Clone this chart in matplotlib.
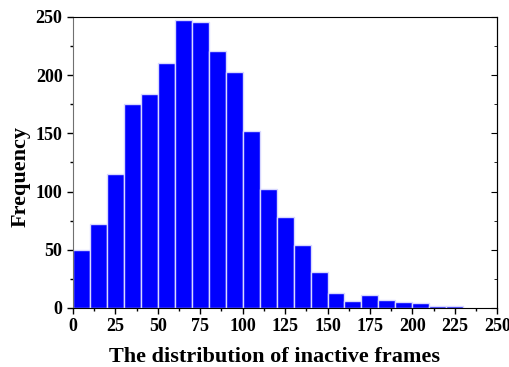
import matplotlib
matplotlib.use("Agg")
import matplotlib.pyplot as plt
from matplotlib.ticker import MultipleLocator

# histogram of inactive frames, bins of width 10
bin_edges = [0, 10, 20, 30, 40, 50, 60, 70, 80, 90, 100, 110,
             120, 130, 140, 150, 160, 170, 180, 190, 200, 210, 220, 230]
counts = [50, 72, 115, 175, 184, 210, 247, 246, 221, 203, 152, 102,
          78, 54, 31, 13, 6, 11, 7, 5, 4, 2, 2]

plt.rcParams['font.family'] = ['Liberation Serif', 'DejaVu Serif']
plt.rcParams['font.weight'] = 'bold'

fig = plt.figure(figsize=(5.1, 3.67), dpi=100)
ax = fig.add_axes([0.143, 0.161, 0.832, 0.793])

ax.hist(bin_edges[:-1], bins=bin_edges, weights=counts,
        color='#0000ff', edgecolor='#d8d8ff', linewidth=1.0)

ax.set_xlim(0, 250)
ax.set_ylim(0, 250)
ax.xaxis.set_major_locator(MultipleLocator(25))
ax.xaxis.set_minor_locator(MultipleLocator(12.5))
ax.yaxis.set_major_locator(MultipleLocator(50))
ax.yaxis.set_minor_locator(MultipleLocator(25))

ax.tick_params(which='both', direction='out', top=False, right=False,
               labelsize=13, width=1.0)
ax.tick_params(which='major', length=4)
ax.tick_params(which='minor', length=2.5)
ax.spines['left'].set_color('#707070')

# inward ticks on the right side only
sec_y = ax.secondary_yaxis('right')
sec_y.yaxis.set_major_locator(MultipleLocator(50))
sec_y.yaxis.set_minor_locator(MultipleLocator(25))
sec_y.tick_params(which='both', direction='in', labelright=False)
sec_y.tick_params(which='major', length=4)
sec_y.tick_params(which='minor', length=2)

for lab in ax.get_xticklabels() + ax.get_yticklabels():
    lab.set_fontweight('bold')

ax.set_xlabel('The distribution of inactive frames', fontsize=16,
              fontweight='bold')
ax.set_ylabel('Frequency', fontsize=16, fontweight='bold')
ax.xaxis.set_label_coords(0.476, -0.135)
ax.yaxis.set_label_coords(-0.099, 0.45)

fig.savefig('out.png', dpi=100)
